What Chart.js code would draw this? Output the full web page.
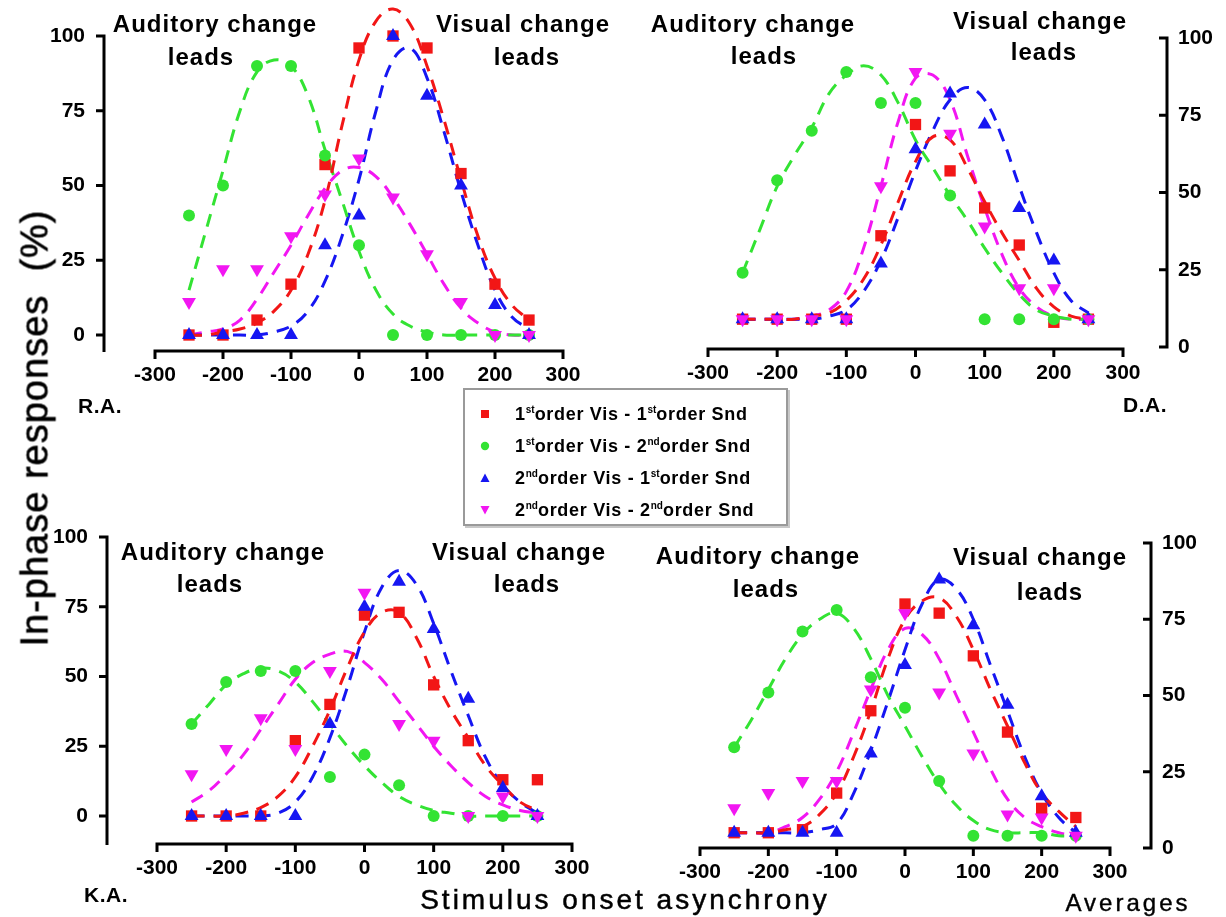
<!DOCTYPE html>
<html>
<head>
<meta charset="utf-8">
<script src="https://cdn.jsdelivr.net/npm/chart.js@4.4.1/dist/chart.umd.min.js"></script>
<style>
  body { margin: 0; background: #fff; }
  #wrap { position: relative; width: 1226px; height: 917px; overflow: hidden;
          font-family: 'Liberation Sans', Arial, Helvetica, sans-serif; color: #000; }
  #wrap canvas { position: absolute; left: 0; top: 0; }
  .t { position: absolute; line-height: 1; white-space: nowrap; transform: translateX(-50%); z-index: 5; }
  .note { font-weight: bold; font-size: 24px; letter-spacing: 1px; }
  .who { font-weight: bold; font-size: 21px; letter-spacing: 0.5px; }
  .axt { font-size: 28px; letter-spacing: 3px; -webkit-text-stroke: 0.5px #000; }
  .avg { font-size: 24px; letter-spacing: 3px; -webkit-text-stroke: 0.4px #000; }
  #ytitle { position: absolute; left: 35px; top: 428px; white-space: nowrap; font-size: 38px;
            letter-spacing: 1px; transform: translate(-50%, -50%) rotate(-90deg); z-index: 5;
            -webkit-text-stroke: 0.6px #000; }
  #legend { position: absolute; left: 463px; top: 388px; width: 325px; height: 138px;
            border: 2px solid #9a9a9a; box-shadow: 2px 2px 0 #c8c8c8; background: #fff;
            padding-top: 8px; box-sizing: border-box; z-index: 6; }
  #legend .row { position: relative; height: 32px; line-height: 32px; font-weight: bold;
                 font-size: 18px; letter-spacing: 0.7px; }
  #legend svg { position: absolute; left: 15px; top: 11px; }
  #legend span { position: absolute; left: 50px; }
  #legend sup { font-size: 10px; vertical-align: 7px; line-height: 0; letter-spacing: 0; }
</style>
</head>
<body>
<div id="wrap">
  <canvas id="ra" width="1226" height="917"></canvas>
  <canvas id="da" width="1226" height="917"></canvas>
  <canvas id="ka" width="1226" height="917"></canvas>
  <canvas id="av" width="1226" height="917"></canvas>

  <div class="t note" style="left:215px; top:12px">Auditory change</div>
  <div class="t note" style="left:201px; top:45px">leads</div>
  <div class="t note" style="left:523px; top:12px">Visual change</div>
  <div class="t note" style="left:527px; top:45px">leads</div>

  <div class="t note" style="left:753px; top:12px">Auditory change</div>
  <div class="t note" style="left:764px; top:44px">leads</div>
  <div class="t note" style="left:1040px; top:9px">Visual change</div>
  <div class="t note" style="left:1044px; top:40px">leads</div>

  <div class="t note" style="left:223px; top:540px">Auditory change</div>
  <div class="t note" style="left:210px; top:572px">leads</div>
  <div class="t note" style="left:519px; top:540px">Visual change</div>
  <div class="t note" style="left:527px; top:572px">leads</div>

  <div class="t note" style="left:758px; top:544px">Auditory change</div>
  <div class="t note" style="left:766px; top:577px">leads</div>
  <div class="t note" style="left:1040px; top:545px">Visual change</div>
  <div class="t note" style="left:1050px; top:580px">leads</div>

  <div class="t who" style="left:100px; top:395px">R.A.</div>
  <div class="t who" style="left:1145px; top:394px">D.A.</div>
  <div class="t who" style="left:106px; top:884px">K.A.</div>
  <div class="t avg" style="left:1128px; top:891px">Averages</div>
  <div class="t axt" style="left:625px; top:886px">Stimulus onset asynchrony</div>
  <div id="ytitle">In-phase responses&nbsp; (%)</div>

  <div id="legend"></div>
</div>

<script>
// stimulus onset asynchrony of the measured points, and x of the read-off fitted curves
const SOA = [-250, -200, -150, -100, -50, 0, 50, 100, 150, 200, 250];
const FIT_X = [-250, -225, -200, -175, -150, -125, -100, -75, -50, -25, 0,
               25, 50, 75, 100, 125, 150, 175, 200, 225, 250];
const X_TICKS = [-300, -200, -100, 0, 100, 200, 300];
const Y_TICKS = [0, 25, 50, 75, 100];

const SERIES = [
  '1<sup>st</sup>order Vis - 1<sup>st</sup>order Snd',
  '1<sup>st</sup>order Vis - 2<sup>nd</sup>order Snd',
  '2<sup>nd</sup>order Vis - 1<sup>st</sup>order Snd',
  '2<sup>nd</sup>order Vis - 2<sup>nd</sup>order Snd'
];

// each panel: [red, green, blue, magenta]
const RA_PTS = [
  [0, 0, 5, 17, 57, 96, 100, 96, 54, 17, 5],
  [40, 50, 90, 90, 60, 30, 0, 0, 0, 0, 0],
  [0, 0, 0, 0, 30, 40, 100, 80, 50, 10, 0],
  [11, 22, 22, 33, 47, 59, 46, 27, 11, 0, 0]
];
const RA_FIT = [
  [0, 0, 1, 2, 4, 8, 15, 27, 45, 70, 92, 105, 109, 104, 90, 72, 52, 33, 19, 10, 5],
  [15, 35, 55, 75, 88, 92, 90, 80, 62, 45, 28, 15, 7, 3, 1, 0, 0, 0, 0, 0, 0],
  [0, 0, 0, 0, 0, 1, 3, 8, 18, 33, 52, 75, 92, 96, 86, 68, 48, 30, 15, 6, 2],
  [0, 1, 2, 5, 12, 21, 30, 40, 49, 55, 56, 53, 46, 37, 27, 17, 9, 4, 1, 0, 0]
];

const DA_PTS = [
  [9, 9, 9, 9, 36, 72, 57, 45, 33, 8, 9],
  [24, 54, 70, 89, 79, 79, 49, 9, 9, 9, 9],
  [9, 9, 9, 9, 27, 64, 82, 72, 45, 28, 9],
  [9, 9, 9, 9, 52, 89, 69, 39, 19, 19, 9]
];
const DA_FIT = [
  [9, 9, 9, 9, 10, 11, 15, 22, 33, 47, 60, 68, 67, 58, 47, 37, 28, 19, 13, 10, 9],
  [24, 38, 52, 62, 71, 82, 88, 91, 88, 79, 67, 58, 49, 41, 32, 24, 17, 12, 10, 9, 9],
  [9, 9, 9, 9, 9, 10, 12, 18, 28, 42, 57, 70, 80, 84, 80, 68, 52, 37, 24, 15, 11],
  [9, 9, 9, 9, 10, 12, 18, 32, 52, 73, 87, 88, 80, 62, 45, 30, 19, 13, 10, 9, 9]
];

const KA_PTS = [
  [0, 0, 0, 27, 40, 72, 73, 47, 27, 13, 13],
  [33, 48, 52, 52, 14, 22, 11, 0, 0, 0, 0],
  [0, 0, 0, 0, 33, 75, 84, 67, 42, 10, 0],
  [15, 24, 35, 24, 52, 80, 33, 27, 0, 7, 0]
];
const KA_FIT = [
  [0, 0, 0, 1, 3, 7, 14, 25, 38, 53, 66, 73, 73, 64, 50, 38, 28, 18, 11, 5, 2],
  [33, 40, 47, 51, 53, 52, 48, 41, 33, 25, 18, 12, 7, 4, 2, 1, 0, 0, 0, 0, 0],
  [0, 0, 0, 0, 0, 1, 5, 14, 28, 46, 66, 82, 88, 83, 69, 52, 36, 21, 11, 5, 1],
  [5, 9, 15, 22, 31, 40, 49, 55, 58, 59, 55, 49, 41, 33, 25, 18, 12, 7, 4, 2, 1]
];

const AV_PTS = [
  [5, 5, 6, 18, 45, 80, 77, 63, 38, 13, 10],
  [33, 51, 71, 78, 56, 46, 22, 4, 4, 4, 4],
  [5, 5, 5, 5, 31, 60, 88, 73, 47, 17, 5],
  [13, 18, 22, 22, 52, 77, 51, 31, 11, 10, 4]
];
const AV_FIT = [
  [5, 5, 5, 6, 7, 11, 18, 30, 45, 62, 75, 81, 82, 76, 65, 52, 40, 28, 18, 12, 7],
  [33, 42, 52, 62, 70, 75, 77, 72, 62, 50, 40, 30, 21, 14, 9, 6, 5, 5, 5, 4, 4],
  [5, 5, 5, 5, 5, 6, 8, 18, 32, 48, 65, 80, 88, 85, 75, 60, 45, 30, 18, 10, 5],
  [5, 5, 5, 7, 10, 16, 25, 38, 52, 65, 72, 70, 62, 50, 38, 26, 16, 10, 7, 5, 4]
];

// looks
const COLORS = ['#f21616', '#33e333', '#1616f2', '#f216f2'];
const MARKERS = [
  { style: 'rect', r: 8, rot: 0 },
  { style: 'circle', r: 6, rot: 0 },
  { style: 'triangle', r: 8, rot: 0 },
  { style: 'triangle', r: 8, rot: 180 }
];
const FONT = "'Liberation Sans', Arial, Helvetica, sans-serif";
const AXIS_W = 70;   // room kept for y tick labels
const AXIS_H = 44;   // room kept for x tick labels

// pixel frame of each panel on the page
const RA_FRAME = { left: 103, right: 578, top: 36, bottom: 352, xm300: 155, x300: 563, y0: 335, y100: 36, side: 'left' };
const DA_FRAME = { left: 690, right: 1168, top: 38, bottom: 350, xm300: 708, x300: 1123, y0: 347, y100: 38, side: 'right' };
const KA_FRAME = { left: 106, right: 580, top: 537, bottom: 845, xm300: 157, x300: 572, y0: 816, y100: 537, side: 'left' };
const AV_FRAME = { left: 685, right: 1152, top: 543, bottom: 849, xm300: 700, x300: 1110, y0: 848, y100: 543, side: 'right' };

// Prism-like detached axes
const prismAxes = {
  id: 'prismAxes',
  beforeDatasetsDraw(chart, args, opts) {
    const { ctx, chartArea: a, scales: { x, y } } = chart;
    ctx.save();
    ctx.strokeStyle = '#000';
    ctx.lineWidth = 3;
    ctx.beginPath();
    const yb = a.bottom - 1;
    ctx.moveTo(x.getPixelForValue(-300) - 1.5, yb);
    ctx.lineTo(x.getPixelForValue(300) + 1.5, yb);
    X_TICKS.forEach(v => {
      const px = x.getPixelForValue(v);
      ctx.moveTo(px, yb);
      ctx.lineTo(px, yb + 8);
    });
    const ax = opts.side === 'right' ? a.right - 1 : a.left + 1;
    const top = y.getPixelForValue(100) - 1.5;
    const bot = opts.side === 'right' ? y.getPixelForValue(0) + 1.5 : a.bottom;
    ctx.moveTo(ax, top);
    ctx.lineTo(ax, bot);
    Y_TICKS.forEach(v => {
      const py = y.getPixelForValue(v);
      ctx.moveTo(ax, py);
      ctx.lineTo(ax - 8, py);
    });
    ctx.stroke();
    ctx.restore();
  }
};

function makePanel(id, f, pts, fit) {
  const xppu = (f.x300 - f.xm300) / 600;
  const yppu = (f.y0 - f.y100) / 100;
  const datasets = [];
  COLORS.forEach((c, i) => {
    datasets.push({
      data: FIT_X.map((x, k) => ({ x, y: fit[i][k] })),
      showLine: true, borderColor: c, borderWidth: 3, borderDash: [13, 9],
      pointRadius: 0, tension: 0.4, fill: false, clip: false, order: 10
    });
    datasets.push({
      data: SOA.map((x, k) => ({ x, y: pts[i][k] })),
      showLine: false, pointStyle: MARKERS[i].style, rotation: MARKERS[i].rot,
      pointRadius: MARKERS[i].r, backgroundColor: c, borderColor: c, borderWidth: 0,
      clip: false, order: 4 - i
    });
  });
  const tickFont = { family: FONT, weight: 'bold', size: 21 };
  const pad = f.side === 'right'
    ? { left: f.left, right: 1226 - f.right - AXIS_W }
    : { left: f.left - AXIS_W, right: 1226 - f.right };
  return new Chart(document.getElementById(id), {
    type: 'scatter',
    data: { datasets },
    plugins: [prismAxes],
    options: {
      responsive: false,
      animation: false,
      events: [],
      layout: { padding: { left: pad.left, right: pad.right, top: f.top, bottom: 917 - f.bottom - AXIS_H } },
      plugins: { legend: { display: false }, tooltip: { enabled: false }, prismAxes: { side: f.side } },
      scales: {
        x: {
          type: 'linear',
          min: -300 + (f.left - f.xm300) / xppu,
          max: -300 + (f.right - f.xm300) / xppu,
          grid: { display: false, drawTicks: false },
          border: { display: false },
          afterBuildTicks: s => { s.ticks = X_TICKS.map(v => ({ value: v })); },
          afterFit: s => { s.height = AXIS_H; },
          ticks: { font: tickFont, color: '#000', padding: 11, maxRotation: 0, autoSkip: false }
        },
        y: {
          type: 'linear',
          position: f.side,
          min: -(f.bottom - f.y0) / yppu,
          max: 100 + (f.y100 - f.top) / yppu,
          grid: { display: false, drawTicks: false },
          border: { display: false },
          afterBuildTicks: s => { s.ticks = Y_TICKS.map(v => ({ value: v })); },
          afterFit: s => { s.width = AXIS_W; },
          ticks: { font: tickFont, color: '#000', padding: f.side === 'right' ? 10 : 18, autoSkip: false }
        }
      }
    }
  });
}

makePanel('ra', RA_FRAME, RA_PTS, RA_FIT);
makePanel('da', DA_FRAME, DA_PTS, DA_FIT);
makePanel('ka', KA_FRAME, KA_PTS, KA_FIT);
makePanel('av', AV_FRAME, AV_PTS, AV_FIT);

// legend box
const legendMarks = [
  c => `<rect x="1" y="1" width="8" height="8" fill="${c}"/>`,
  c => `<circle cx="5" cy="5" r="4.2" fill="${c}"/>`,
  c => `<polygon points="5,0.5 9.5,9 0.5,9" fill="${c}"/>`,
  c => `<polygon points="0.5,1 9.5,1 5,9.5" fill="${c}"/>`
];
document.getElementById('legend').innerHTML = SERIES.map((name, i) =>
  `<div class="row"><svg width="10" height="10" viewBox="0 0 10 10">${legendMarks[i](COLORS[i])}</svg>` +
  `<span>${name}</span></div>`).join('');
</script>
</body>
</html>
